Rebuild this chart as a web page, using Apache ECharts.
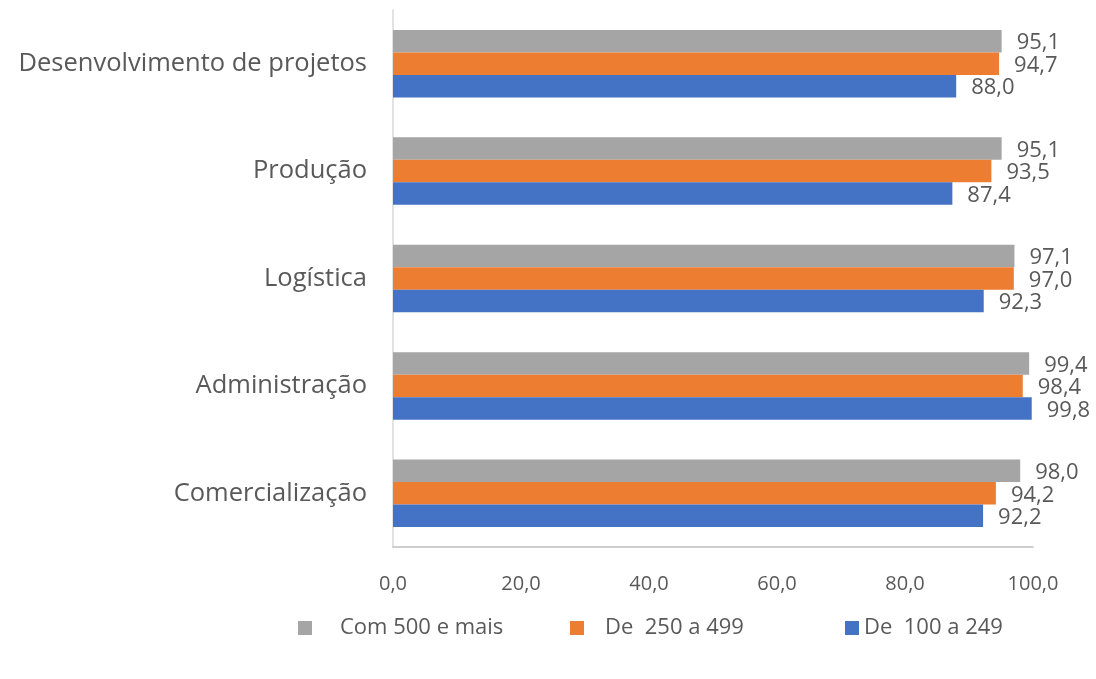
<!DOCTYPE html>
<html>
<head>
<meta charset="utf-8">
<script src="https://cdn.jsdelivr.net/npm/echarts@6/dist/echarts.min.js"></script>
<style>
  html, body { margin: 0; padding: 0; background: #fff; }
  #main { width: 1096px; height: 679px; }
</style>
</head>
<body>
<div id="main"></div>
<script>
// categorias (de cima para baixo)
var categorias = ['Desenvolvimento de projetos', 'Produção', 'Logística', 'Administração', 'Comercialização'];
// séries
var nomes = ['Com 500 e mais', 'De  250 a 499', 'De  100 a 249'];
var com500 = [95.1, 95.1, 97.1, 99.4, 98.0];
var de250 = [94.7, 93.5, 97.0, 98.4, 94.2];
var de100 = [88.0, 87.4, 92.3, 99.8, 92.2];
var cores = ['#A5A5A5', '#ED7D31', '#4472C4'];

var fonte = '"Open Sans", sans-serif';
var corTexto = '#595959';

function fmt(v) {
  return v.toFixed(1).replace('.', ',');
}

function serie(nome, dados, cor) {
  return {
    name: nome,
    type: 'bar',
    data: dados,
    barWidth: 22.5,
    barGap: '0%',
    itemStyle: {color: cor},
    label: {
      show: true,
      position: 'right',
      distance: 15,
      offset: [0, 2],
      color: corTexto,
      fontFamily: fonte,
      fontSize: 22,
      formatter: function (p) { return fmt(p.value); }
    }
  };
}

// uma legenda por série, para acertar as posições
function legenda(nome, esq, pad) {
  return {
    data: [nome],
    left: esq,
    top: 612,
    icon: 'rect',
    itemWidth: 14,
    itemHeight: 14,
    textStyle: {color: corTexto, fontFamily: fonte, fontSize: 22, padding: [0, 0, 0, pad]}
  };
}

var chart = echarts.init(document.getElementById('main'));
chart.setOption({
  animation: false,
  backgroundColor: '#fff',
  grid: {left: 393, right: 63, top: 10, bottom: 132, containLabel: false},
  legend: [
    legenda(nomes[0], 293, 23),
    legenda(nomes[1], 565, 16),
    legenda(nomes[2], 840, 0)
  ],
  xAxis: {
    type: 'value',
    min: 0,
    max: 100,
    interval: 20,
    axisLine: {show: true, lineStyle: {color: '#BFBFBF', width: 1.5}},
    axisTick: {show: false},
    splitLine: {show: false},
    axisLabel: {
      color: corTexto,
      fontFamily: fonte,
      fontSize: 20,
      margin: 27,
      formatter: function (v) { return fmt(v); }
    }
  },
  yAxis: {
    type: 'category',
    data: categorias,
    inverse: true,
    axisLine: {show: true, lineStyle: {color: '#D9D9D9', width: 1.5}},
    axisTick: {show: false},
    axisLabel: {color: corTexto, fontFamily: fonte, fontSize: 25.5, margin: 26}
  },
  series: [
    serie(nomes[0], com500, cores[0]),
    serie(nomes[1], de250, cores[1]),
    serie(nomes[2], de100, cores[2])
  ]
});
</script>
</body>
</html>
